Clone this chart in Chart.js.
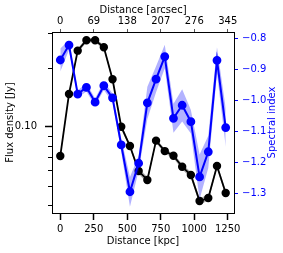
<!DOCTYPE html>
<html>
<head>
<meta charset="utf-8">
<script src="https://cdn.jsdelivr.net/npm/chart.js@4"></script>
<style>
  html, body { margin: 0; padding: 0; background: #fff; }
  canvas { display: block; }
</style>
</head>
<body>
<canvas id="c" width="283" height="253"></canvas>
<script>
// ---- data ----
const distanceKpc = [0, 65, 130, 195, 260, 325, 390, 455, 520, 585, 650, 715, 780, 845, 910, 975, 1040, 1105, 1170, 1235];
const fluxJy = [0.0709, 0.1468, 0.2442, 0.276, 0.276, 0.254, 0.1745, 0.100, 0.0797, 0.0594, 0.0535, 0.0849, 0.0751, 0.0711, 0.0625, 0.0567, 0.0418, 0.0433, 0.0630, 0.0459];
const fluxErr = [0.002, 0.004, 0.006, 0.007, 0.007, 0.006, 0.005, 0.003, 0.002, 0.002, 0.002, 0.002, 0.002, 0.002, 0.002, 0.002, 0.0015, 0.0015, 0.002, 0.0015];
const spectralIndex = [-0.870, -0.822, -0.980, -0.958, -1.006, -0.953, -0.992, -1.144, -1.295, -1.203, -1.008, -0.932, -0.859, -1.058, -1.016, -1.069, -1.247, -1.166, -0.871, -1.088];
const spectralErr = [0.037, 0.016, 0.012, 0.014, 0.012, 0.014, 0.014, 0.022, 0.048, 0.024, 0.052, 0.042, 0.038, 0.047, 0.052, 0.038, 0.072, 0.052, 0.042, 0.062];

// ---- ticks ----
const kpcTicks = [0, 250, 500, 750, 1000, 1250];
const arcsecTicks = [0, 69, 138, 207, 276, 345];
const kpcPerArcsec = 250 / 69;
const fluxTicks = [0.04, 0.05, 0.06, 0.07, 0.08, 0.09, 0.1, 0.2, 0.3];
const fluxTickLabels = ['', '', '', '', '', '', '0.10', '', ''];
const spectralTicks = [-0.8, -0.9, -1.0, -1.1, -1.2, -1.3];
const rightTitle = 'Spectral index';

const FONT = { family: 'DejaVu Sans', size: 10 };
const BLUE = '#0000ff';

const pts = (ys) => distanceKpc.map((x, i) => ({ x: x, y: ys[i] }));
const fluxLo = fluxJy.map((v, i) => v - fluxErr[i]);
const fluxHi = fluxJy.map((v, i) => v + fluxErr[i]);
const specLo = spectralIndex.map((v, i) => v - spectralErr[i]);
const specHi = spectralIndex.map((v, i) => v + spectralErr[i]);

const extras = {
  id: 'extras',
  afterDraw(chart) {
    const s = chart.scales.y;
    const ctx = chart.ctx;
    ctx.save();
    ctx.strokeStyle = '#000';
    ctx.lineWidth = 1;
    s.ticks.forEach((t, i) => {
      if (fluxTickLabels[i] !== '') return;
      const y = Math.round(s.getPixelForValue(t.value)) + 0.5;
      ctx.beginPath();
      ctx.moveTo(s.right, y);
      ctx.lineTo(s.right - 4, y);
      ctx.stroke();
    });
    // right axis title, reading bottom-to-top
    const r = chart.scales.y2;
    const ca = chart.chartArea;
    ctx.translate(r.right - 11, (ca.top + ca.bottom) / 2);
    ctx.rotate(-Math.PI / 2);
    ctx.fillStyle = BLUE;
    ctx.font = '10px "DejaVu Sans"';
    ctx.textAlign = 'center';
    ctx.textBaseline = 'middle';
    ctx.fillText(rightTitle, 0, 0);
    ctx.restore();
  }
};

new Chart(document.getElementById('c'), {
  type: 'line',
  data: {
    datasets: [
      { data: pts(spectralIndex), yAxisID: 'y2', borderColor: BLUE, backgroundColor: BLUE,
        pointBackgroundColor: BLUE, pointBorderColor: BLUE, borderWidth: 2, pointRadius: 3.4,
        fill: false, order: 0 },
      { data: pts(specLo), yAxisID: 'y2', borderWidth: 0, pointRadius: 0, borderColor: 'rgba(0,0,0,0)',
        fill: false, order: 1 },
      { data: pts(specHi), yAxisID: 'y2', borderWidth: 0, pointRadius: 0, borderColor: 'rgba(0,0,0,0)',
        backgroundColor: 'rgba(0,0,255,0.3)', fill: 1, order: 1 },
      { data: pts(fluxJy), yAxisID: 'y', borderColor: '#000', backgroundColor: '#000',
        pointBackgroundColor: '#000', pointBorderColor: '#000', borderWidth: 1.8, pointRadius: 3.3,
        fill: false, order: 2 },
      { data: pts(fluxLo), yAxisID: 'y', borderWidth: 0, pointRadius: 0, borderColor: 'rgba(0,0,0,0)',
        fill: false, order: 3 },
      { data: pts(fluxHi), yAxisID: 'y', borderWidth: 0, pointRadius: 0, borderColor: 'rgba(0,0,0,0)',
        backgroundColor: 'rgba(0,0,0,0.3)', fill: 4, order: 3 }
    ]
  },
  options: {
    responsive: false,
    devicePixelRatio: 1,
    animation: false,
    layout: { padding: 0 },
    plugins: { legend: { display: false }, tooltip: { enabled: false } },
    elements: { line: { tension: 0 } },
    scales: {
      x: {
        type: 'linear', position: 'bottom', min: -62, max: 1297, bounds: 'data',
        afterBuildTicks: s => { s.ticks = kpcTicks.map(v => ({ value: v })); },
        afterFit: s => { s.height = 40; },
        grid: { drawOnChartArea: false, drawTicks: true, tickLength: 7, tickWidth: 1.5, tickColor: '#000' },
        border: { display: true, color: '#000', width: 1 },
        ticks: { font: FONT, color: '#000', padding: 3, maxRotation: 0, autoSkip: false,
                 callback: v => String(v) },
        title: { display: true, text: 'Distance [kpc]', font: FONT, color: '#000',
                 padding: { top: 0, bottom: 6 } }
      },
      x2: {
        type: 'linear', position: 'top', min: -62, max: 1297, bounds: 'data',
        afterBuildTicks: s => { s.ticks = arcsecTicks.map(v => ({ value: v * kpcPerArcsec })); },
        afterFit: s => { s.height = 32; },
        grid: { drawOnChartArea: false, drawTicks: true, tickLength: 3, tickWidth: 1, tickColor: '#555' },
        border: { display: true, color: '#000', width: 1 },
        ticks: { font: FONT, color: '#000', padding: 2, maxRotation: 0, autoSkip: false,
                 callback: (v, i) => String(arcsecTicks[i]) },
        title: { display: true, text: 'Distance [arcsec]', font: FONT, color: '#000',
                 padding: { top: 4, bottom: 0 } }
      },
      y: {
        type: 'logarithmic', position: 'left', min: 0.0363, max: 0.304, bounds: 'data',
        afterBuildTicks: s => { s.ticks = fluxTicks.map(v => ({ value: v })); },
        afterFit: s => { s.width = 52; },
        grid: { drawOnChartArea: false, drawTicks: true, tickLength: 7, tickWidth: 1.5,
                tickColor: c => (c.tick && fluxTickLabels[c.index] !== '') ? '#000' : 'rgba(0,0,0,0)' },
        border: { display: true, color: '#000', width: 1 },
        ticks: { font: FONT, color: '#000', padding: 8, autoSkip: false,
                 callback: (v, i) => fluxTickLabels[i] },
        title: { display: true, text: 'Flux density [Jy]', font: FONT, color: '#000',
                 padding: { top: 4, bottom: 0 } }
      },
      y2: {
        type: 'linear', position: 'right', min: -1.3635, max: -0.7797, bounds: 'data',
        afterBuildTicks: s => { s.ticks = spectralTicks.map(v => ({ value: v })); },
        afterFit: s => { s.width = 49; },
        grid: { drawOnChartArea: false, drawTicks: true, tickLength: 4, tickWidth: 1, tickColor: BLUE },
        border: { display: true, color: '#000', width: 1 },
        ticks: { font: FONT, color: BLUE, padding: 4, autoSkip: false,
                 callback: v => (v < 0 ? '\u2212' : '') + Math.abs(v).toFixed(1) },
        title: { display: false }
      }
    }
  },
  plugins: [extras]
});
</script>
</body>
</html>
